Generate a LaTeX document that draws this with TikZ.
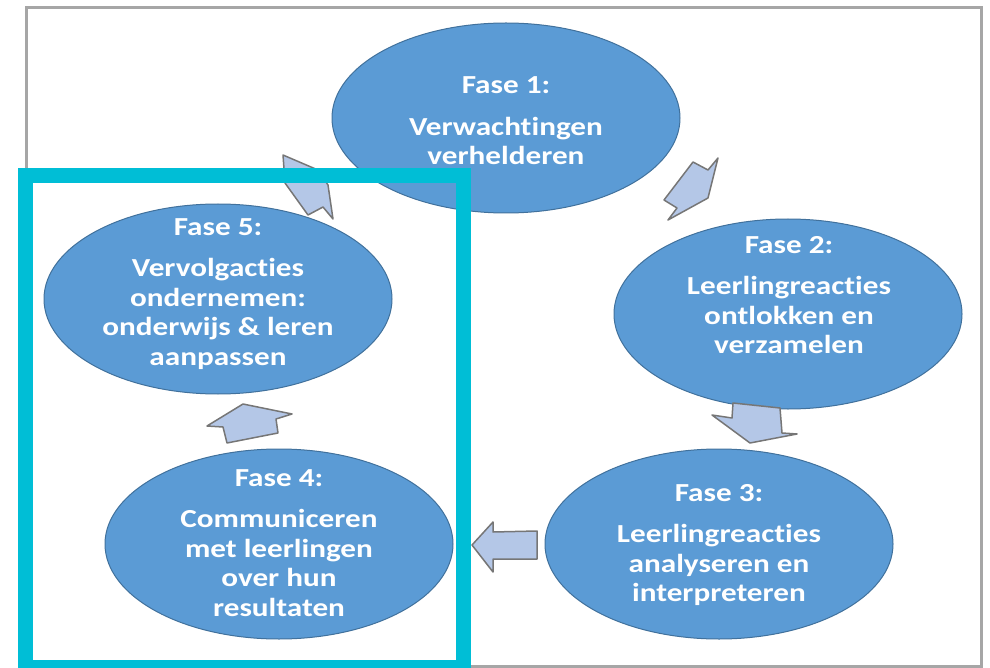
\documentclass[tikz,border=0pt]{standalone}
\usepackage{fontspec}
\setmainfont{Carlito}[FakeStretch=1.2, Ligatures=NoCommon]
\usetikzlibrary{positioning}
\definecolor{faseblue}{RGB}{91,155,213}
\definecolor{faseedge}{RGB}{65,113,156}
\definecolor{pijlfill}{RGB}{180,199,231}
\definecolor{pijledge}{RGB}{118,118,118}
\definecolor{kadergray}{RGB}{166,166,166}
\definecolor{markcyan}{RGB}{0,190,214}

\begin{document}
\begin{tikzpicture}[
    x=1pt, y=-1pt,
    % Styles
    fase/.style={fill=faseblue, draw=faseedge, line width=1pt},
    fasetext/.style={text=white, align=center, inner sep=0pt,
        font=\bfseries\fontsize{26}{29.5}\selectfont},
    pijl/.style={fill=pijlfill, draw=pijledge, line width=1.5pt, line join=round},
]
\useasboundingbox (0,0) rectangle (990,668);
\clip (0,0) rectangle (990,668);

% Outer frame
\draw[kadergray, line width=3pt] (26,8) rectangle (981,666.5);

% The five phases
\foreach \x/\y in {506/118, 788/314, 719/544, 279/544, 218/299} {
    \path[fase] (\x,\y) ellipse [x radius=174, y radius=95];
}

\node[fasetext] (fase1) at (506,121) {Fase 1:\\[12pt]Verwachtingen\\verhelderen};
\node[fasetext] (fase2) at (789,295) {Fase 2:\\[12pt]Leerlingreacties\\ontlokken en\\verzamelen};
\node[fasetext] (fase3) at (719,545) {Fase 3:\\[12pt]Leerlingreacties\\analyseren en\\interpreteren};
\node[fasetext] (fase4) at (279,543) {Fase 4:\\[12pt]Communiceren\\met leerlingen\\over hun\\resultaten};
\node[fasetext] (fase5) at (218,294) {Fase 5:\\[12pt]Vervolgacties\\ondernemen:\\onderwijs \& leren\\aanpassen};

% Block arrows between the phases
\draw[pijl] (718,158) -- (708,170) -- (693,162) -- (664,200) -- (677,208) -- (668,220) -- (708,198) -- cycle;
\draw[pijl] (733,403) -- (780,408) -- (782,433) -- (797,434) -- (750,443) -- (712,415) -- (732,418) -- cycle;
\draw[pijl] (472,545) -- (493,522) -- (493,532) -- (537,531) -- (537,559) -- (493,559) -- (493,572) -- cycle;
\draw[pijl] (243,404) -- (292,414) -- (276,419) -- (278,433) -- (227,443) -- (223,427) -- (207,426) -- cycle;
\draw[pijl] (283,155) -- (318,170) -- (328,185) -- (333,219) -- (323,207) -- (308,215) -- (285,183) -- cycle;

% Highlight box
\draw[markcyan, line width=15pt] (25.8,175.8) rectangle (463,667.5);

\end{tikzpicture}
\end{document}
